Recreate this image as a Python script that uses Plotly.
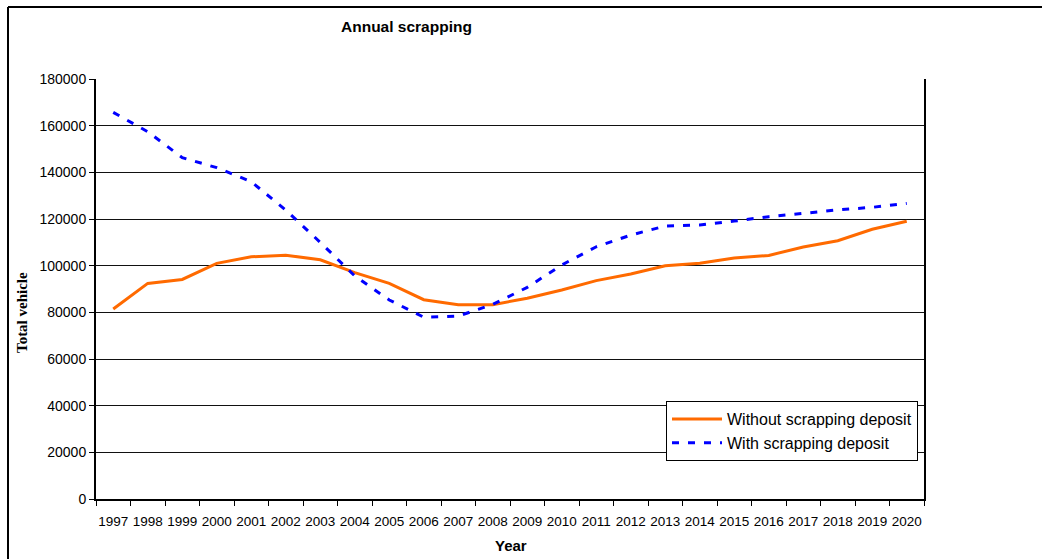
import plotly.graph_objects as go

years = [str(y) for y in range(1997, 2021)]
without_deposit = [81400, 92400, 94100, 101000, 103800, 104500, 102500, 97000, 92400, 85400,
                   83300, 83300, 86000, 89600, 93600, 96400, 100000, 101000, 103300, 104400,
                   108000, 110700, 115600, 119000]
with_deposit = [165700, 157400, 146300, 142000, 136000, 123800, 110000, 95600, 85300, 77900,
                78400, 83400, 90700, 100300, 108100, 113100, 117000, 117400, 119100, 121000,
                122400, 123900, 125000, 126700]

W, H = 1042, 559
L, R, T, B = 96, 924, 79, 499

def px(x):
    return (x - L) / (R - L)

def py(y):
    return (B - y) / (B - T)

fig = go.Figure()
fig.add_trace(go.Scatter(x=years, y=without_deposit, mode="lines", name="Without scrapping deposit",
                         line=dict(color="#FF6A00", width=3)))
fig.add_trace(go.Scatter(x=years, y=with_deposit, mode="lines", name="With scrapping deposit",
                         line=dict(color="#0000FF", width=3, dash="7px,9px")))

font = "Arial, Liberation Sans, sans-serif"
fig.update_layout(
    width=W, height=H,
    margin=dict(l=L, r=W - R, t=T, b=H - B),
    paper_bgcolor="white", plot_bgcolor="white",
    font=dict(family=font, color="#000"),
    showlegend=True,
    legend=dict(x=px(666), y=py(401), xanchor="left", yanchor="top",
                bgcolor="white", bordercolor="#000", borderwidth=1, itemwidth=50,
                font=dict(size=16, family=font), tracegroupgap=0),
    xaxis=dict(type="category", range=[-0.5, 23.5], showgrid=False,
               showline=True, linecolor="#000", linewidth=2,
               ticks="outside", ticklen=5, tickcolor="#000", tickson="boundaries",
               tickangle=0, tickfont=dict(size=13.5), ticklabelstandoff=9, zeroline=False),
    yaxis=dict(range=[0, 180000], dtick=20000, showgrid=True, gridcolor="#111", gridwidth=1.3,
               showline=True, linecolor="#000", linewidth=2, mirror=True,
               ticks="outside", ticklen=5, tickcolor="#000",
               tickfont=dict(size=14), zeroline=False, tickformat="d"),
    shapes=[
        dict(type="line", xref="paper", yref="paper", x0=px(8), x1=px(8), y0=py(7), y1=py(560),
             line=dict(color="#000", width=2)),
        dict(type="line", xref="paper", yref="paper", x0=px(8), x1=px(1043), y0=py(7), y1=py(7),
             line=dict(color="#000", width=2)),
    ],
    annotations=[
        dict(text="<b>Annual scrapping</b>", x=px(406.7), y=py(26), xref="paper", yref="paper",
             showarrow=False, font=dict(size=15.5, family=font), xanchor="center", yanchor="middle"),
        dict(text="<b>Year</b>", x=px(511), y=py(545), xref="paper", yref="paper",
             showarrow=False, font=dict(size=15, family=font), xanchor="center", yanchor="middle"),
        dict(text="<b>Total vehicle</b>", x=px(22), y=py(313), xref="paper", yref="paper",
             showarrow=False, textangle=-90,
             font=dict(size=15, family="Times New Roman, Liberation Serif, serif"),
             xanchor="center", yanchor="middle"),
    ],
)

fig.write_html("out.html")
